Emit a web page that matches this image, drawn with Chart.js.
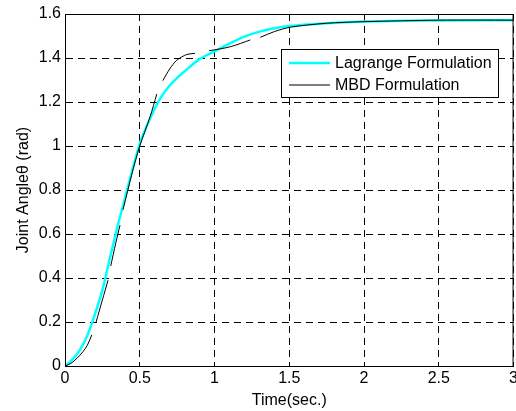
<!DOCTYPE html>
<html>
<head>
<meta charset="utf-8">
<script src="https://cdn.jsdelivr.net/npm/chart.js@4"></script>
<style>
  html, body { margin: 0; padding: 0; background: #fff; overflow: hidden; }
  #wrap { width: 521px; height: 411px; }
</style>
</head>
<body>
<div id="wrap"><canvas id="plot" width="521" height="411"></canvas></div>
<script>
// Lagrange formulation (continuous)
var lagT = [0, 0.05, 0.1, 0.15, 0.2, 0.25, 0.3, 0.35, 0.4, 0.45, 0.5, 0.55, 0.6, 0.65, 0.7, 0.75, 0.8, 0.9, 1.0, 1.1, 1.2, 1.3, 1.4, 1.5, 1.75, 2.0, 2.5, 3.0];
var lagV = [0, 0.03, 0.073, 0.14, 0.235, 0.345, 0.49, 0.63, 0.76, 0.89, 1.01, 1.095, 1.17, 1.23, 1.275, 1.31, 1.34, 1.395, 1.43, 1.465, 1.497, 1.52, 1.535, 1.545, 1.558, 1.566, 1.571, 1.572];

// MBD formulation (drawn in broken pieces, null = gap)
var mbdT = [0, 0.04, 0.08, 0.12, 0.15, 0.179, 0.19,
            0.208, 0.25, 0.288, 0.297,
            0.306, 0.34, 0.368, 0.378,
            0.388, 0.45, 0.5, 0.569, 0.614, 0.634,
            0.654, 0.7, 0.748, 0.815, 0.87, 0.92,
            0.964, 1.105, 1.239, 1.27,
            1.306, 1.4, 1.507, 1.75, 2.0, 2.5, 3.0];
var mbdV = [0, 0.012, 0.035, 0.065, 0.095, 0.141, null,
            0.20, 0.30, 0.39, null,
            0.455, 0.56, 0.64, null,
            0.71, 0.88, 1.0, 1.133, 1.236, null,
            1.297, 1.35, 1.39, 1.416, 1.421, null,
            1.433, 1.451, 1.482, null,
            1.494, 1.52, 1.54, 1.558, 1.565, 1.572, 1.572];

var seriesNames = ['Lagrange Formulation', 'MBD Formulation'];
var xTitle = 'Time(sec.)';
var yTitle = 'Joint Angle\u03b8 (rad)';

function pairs(xs, ys) {
  return xs.map(function (x, i) { return { x: x, y: ys[i] }; });
}

function fmt(v) { return String(+v.toFixed(2)); }

var font = { family: '"Liberation Sans", Arial, sans-serif', size: 16 };

var boxPlugin = {
  id: 'box',
  afterDraw: function (chart) {
    var c = chart.ctx, a = chart.chartArea;
    c.save();
    c.strokeStyle = '#000';
    c.lineWidth = 1;
    c.strokeRect(a.left + 0.5, a.top + 0.5, a.right - a.left - 1, a.bottom - a.top);
    // legend
    var lx = 281, ly = 49, lw = 217, lh = 48;
    c.fillStyle = '#fff';
    c.fillRect(lx, ly, lw, lh);
    c.strokeRect(lx + 0.5, ly + 0.5, lw, lh);
    c.font = '16px "Liberation Sans", Arial, sans-serif';
    c.textBaseline = 'middle';
    var ds = chart.data.datasets;
    [ds[1], ds[0]].forEach(function (d, i) {
      var y = ly + 14 + i * 22;
      c.strokeStyle = d.borderColor;
      c.lineWidth = d.borderWidth;
      c.beginPath();
      c.moveTo(289, y);
      c.lineTo(330, y);
      c.stroke();
      c.fillStyle = '#000';
      c.fillText(d.label, 335, y + 1);
    });
    c.restore();
  }
};

new Chart(document.getElementById('plot'), {
  type: 'line',
  data: {
    datasets: [
      {
        label: seriesNames[1],
        data: pairs(mbdT, mbdV),
        borderColor: '#000000',
        borderWidth: 1,
        pointRadius: 0,
        tension: 0.3,
        spanGaps: false,
        order: 0
      },
      {
        label: seriesNames[0],
        data: pairs(lagT, lagV),
        borderColor: '#00ffff',
        borderWidth: 2.5,
        pointRadius: 0,
        cubicInterpolationMode: 'monotone',
        order: 1
      }
    ]
  },
  options: {
    responsive: false,
    animation: false,
    devicePixelRatio: 1,
    layout: { padding: { top: 14, right: 5, left: 0, bottom: 0 } },
    plugins: { legend: { display: false }, tooltip: { enabled: false } },
    scales: {
      x: {
        type: 'linear',
        min: 0, max: 3,
        afterFit: function (s) { s.height = 45; },
        ticks: { stepSize: 0.5, color: '#000', font: font, padding: 3, maxRotation: 0, callback: fmt },
        grid: { color: '#000', lineWidth: 1, drawTicks: false },
        border: { color: '#000', dash: [7, 5] },
        title: { display: true, text: xTitle, color: '#000', font: font, padding: { top: 0, bottom: 1 } }
      },
      y: {
        min: 0, max: 1.6,
        afterFit: function (s) { s.width = 65; },
        ticks: { stepSize: 0.2, color: '#000', font: font, padding: 4, callback: fmt },
        grid: { color: '#000', lineWidth: 1, drawTicks: false },
        border: { color: '#000', dash: [7, 5] },
        title: { display: true, text: yTitle, color: '#000', font: font, padding: { top: 14, bottom: 0 } }
      }
    }
  },
  plugins: [boxPlugin]
});
</script>
</body>
</html>
